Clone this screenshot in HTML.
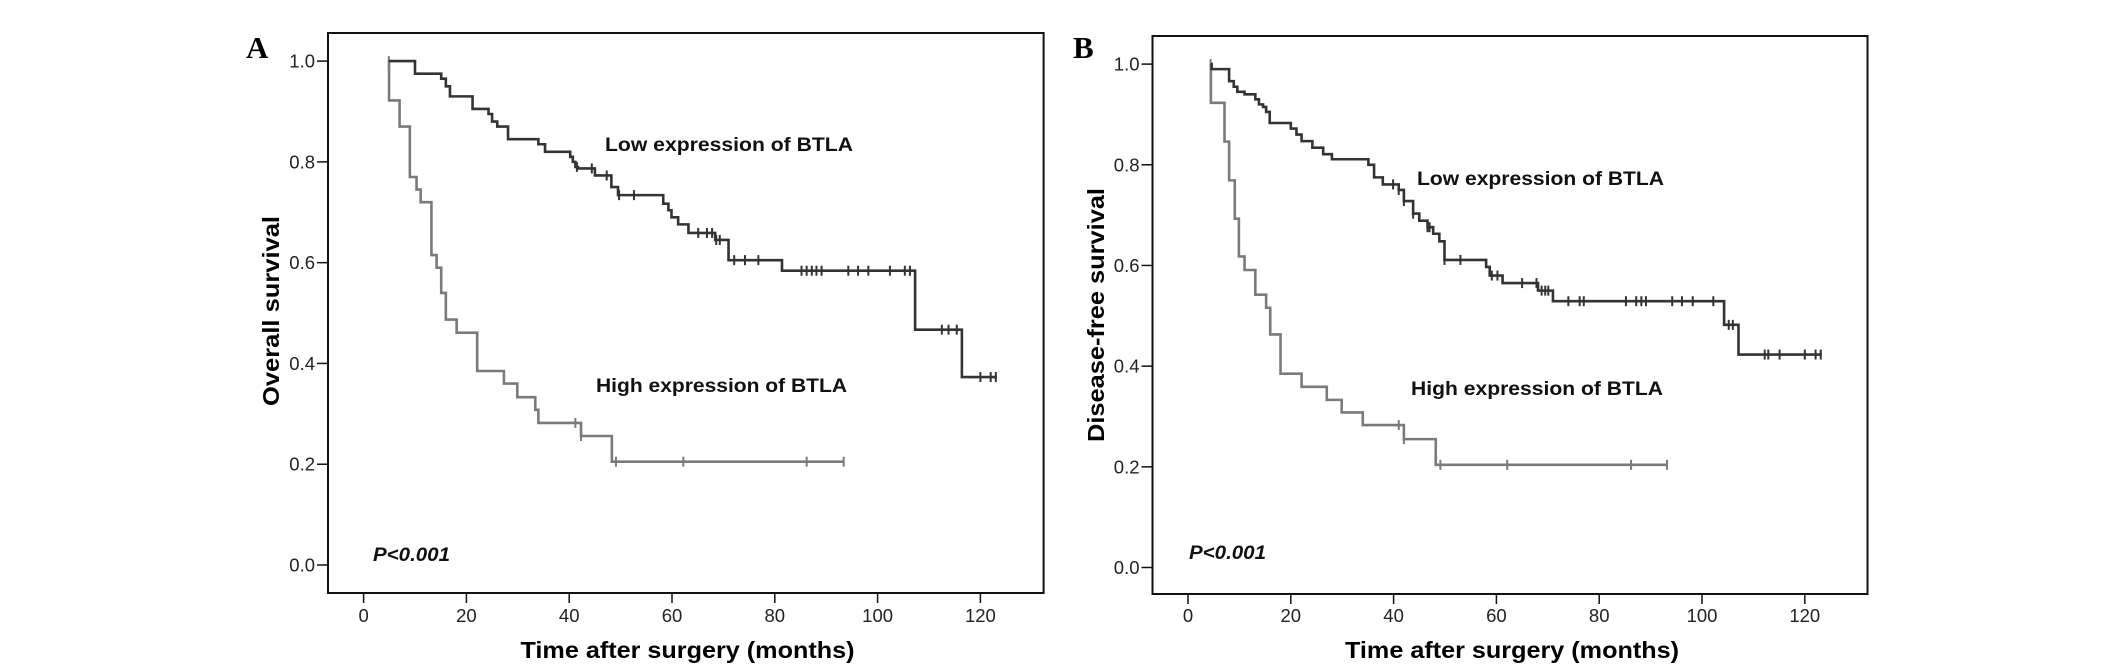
<!DOCTYPE html>
<html><head><meta charset="utf-8">
<style>html,body{margin:0;padding:0;background:#fff;}svg{display:block;}</style></head>
<body>
<svg id="fig" width="2126" height="670" xmlns="http://www.w3.org/2000/svg" font-family="Liberation Sans, sans-serif"></svg>
<script>
// ----- Data -----
const xTicks = [0,20,40,60,80,100,120];
const yTicks = [0.0,0.2,0.4,0.6,0.8,1.0];
const yTickLabels = ["0.0","0.2","0.4","0.6","0.8","1.0"];
// Panel A - Overall survival, low BTLA: step times and survival values
const aLowTimes = [4.9,10,15.1,16,16.8,21.2,24.3,25,26,28.1,34,35.3,40.2,40.7,41.2,41.7,45,48.2,49.5,58.3,59.3,59.9,61.2,63.2,68.4,71,81.4,107.3,116.4];
const aLowSurv  = [1.0,0.975,0.965,0.95,0.93,0.905,0.895,0.88,0.87,0.845,0.835,0.82,0.81,0.80,0.79,0.787,0.773,0.75,0.734,0.717,0.704,0.69,0.676,0.659,0.645,0.605,0.584,0.467,0.373];
const aLowEnd = 123.2;
const aLowCensor = [41.5,44.4,47.3,49.7,52.6,65.1,66.8,67.8,68.6,69.3,72.1,74.2,76.8,85.2,86.2,87.2,88.1,89.1,94.3,96.2,98.2,102.4,105.3,106.3,112.5,113.8,115.4,120,122,123];
// Panel A - high BTLA
const aHighTimes = [4.9,4.95,7,9,10.3,11.1,13.2,14.2,15.1,16,18.1,22.1,27.3,29.9,33.4,34,42.3,48.3];
const aHighSurv  = [1.0,0.922,0.87,0.77,0.745,0.72,0.615,0.59,0.54,0.487,0.461,0.385,0.36,0.333,0.308,0.282,0.256,0.205];
const aHighEnd = 93.4;
const aHighCensor = [4.9,41.2,42.3,49.1,62.2,86.2,93.4];
// Panel B - Disease-free survival, low BTLA
const bLowTimes = [4.4,4.6,8,8.9,9.6,11,13.1,13.8,14.6,15.2,15.9,20,21.1,22.1,24.2,26.3,28,35.1,36.2,37.9,41,42,43.8,45,46.6,47.7,48.9,49.9,58,58.7,61.2,68.1,71,104.3,107.1];
const bLowSurv  = [1.0,0.99,0.966,0.955,0.945,0.94,0.93,0.92,0.915,0.905,0.883,0.872,0.86,0.847,0.834,0.821,0.811,0.80,0.775,0.761,0.75,0.728,0.703,0.689,0.676,0.663,0.648,0.611,0.597,0.58,0.565,0.55,0.529,0.482,0.423];
const bLowEnd = 123.3;
const bLowCensor = [39.9,41,42,43.8,46.6,47,49.9,53,59.1,60.2,65,67.8,68.8,69.5,70.1,74,76.2,77,85.2,87.2,88.2,89.1,94.2,96.1,98.2,102.2,105.2,106,112.2,112.9,115.1,120,122.1,123.1];
// Panel B - high BTLA
const bHighTimes = [4.4,4.45,7.1,8,9.1,9.9,11,13.1,15.2,16,18,22.1,27,29.9,34,42,48.2];
const bHighSurv  = [1.0,0.923,0.846,0.769,0.693,0.618,0.591,0.542,0.516,0.463,0.385,0.359,0.333,0.308,0.283,0.255,0.204];
const bHighEnd = 93.2;
const bHighCensor = [4.4,41,42,49.1,62.1,86.2,93.2];

const NS = "http://www.w3.org/2000/svg";
const svg = document.getElementById('fig');
function mk(tag, attrs, parent){const e=document.createElementNS(NS,tag);for(const k in attrs)e.setAttribute(k,attrs[k]);(parent||svg).appendChild(e);return e;}

const panels = [
 {id:'a', letter:'A', lx:246, ly:58, fx0:328, fx1:1043.6, fy0:33, fy1:593, x0:363.6, ppm:5.14, y1:61.1, y0:565,
  ytitle:'Overall survival', ytx:271, yty:311, ytl:190,
  low:[aLowTimes,aLowSurv,aLowEnd,aLowCensor], high:[aHighTimes,aHighSurv,aHighEnd,aHighCensor],
  lowLab:[605,151,248], highLab:[596,392,251], pLab:[373,561]},
 {id:'b', letter:'B', lx:1073, ly:58, fx0:1152.5, fx1:1867.5, fy0:36, fy1:594, x0:1188, ppm:5.14, y1:64.1, y0:567.5,
  ytitle:'Disease-free survival', ytx:1096, yty:315, ytl:254,
  low:[bLowTimes,bLowSurv,bLowEnd,bLowCensor], high:[bHighTimes,bHighSurv,bHighEnd,bHighCensor],
  lowLab:[1417,185,247], highLab:[1411,395,252], pLab:[1189,559]}
];

panels.forEach(p=>{
  const X = t => p.x0 + t*p.ppm;
  const Y = v => p.y0 - v*(p.y0-p.y1);
  const g = mk('g',{});
  
  
  const L = mk('text',{x:p.lx,y:p.ly,'font-family':'Liberation Serif, serif','font-weight':'bold','font-size':31,fill:'#000'},g);
  L.textContent=p.letter;
  
  
  const fr = mk('rect',{x:p.fx0,y:p.fy0,width:p.fx1-p.fx0,height:p.fy1-p.fy0,fill:'none',stroke:'#111','stroke-width':2},g);
  
  
  yTicks.forEach((v,i)=>{
    const tk=mk('line',{x1:p.fx0-11,x2:p.fx0,y1:Y(v),y2:Y(v),stroke:'#111','stroke-width':1.5},g);
    
    
    const tl=mk('text',{x:p.fx0-13,y:Y(v)+6.5,'text-anchor':'end','font-size':18.5,fill:'#222'},g);
    tl.textContent=yTickLabels[i];
    
    
  });
  xTicks.forEach(t=>{
    const tk=mk('line',{x1:X(t),x2:X(t),y1:p.fy1,y2:p.fy1+10,stroke:'#111','stroke-width':1.5},g);
    
    
    const tl=mk('text',{x:X(t),y:622,'text-anchor':'middle','font-size':18.5,fill:'#222'},g);
    tl.textContent=String(t);
    
    
  });
  const xt=mk('text',{x:p.fx0+359.5,y:658,'text-anchor':'middle','font-size':23,'font-weight':'bold',fill:'#000',textLength:334,lengthAdjust:'spacingAndGlyphs'},g);
  xt.textContent='Time after surgery (months)';
  
  
  const yt=mk('text',{x:0,y:0,'text-anchor':'middle','font-size':23,'font-weight':'bold',fill:'#000',textLength:p.ytl,lengthAdjust:'spacingAndGlyphs',transform:`translate(${p.ytx+8},${p.yty}) rotate(-90)`},g);
  yt.textContent=p.ytitle;
  
  

  function curve(d,color,name){
    const [ts,vs,end,cens]=d;
    let path=`M${X(ts[0])},${Y(vs[0])}`;
    for(let i=1;i<ts.length;i++){path+=` H${X(ts[i])} V${Y(vs[i])}`;}
    path+=` H${X(end)}`;
    const pe=mk('path',{d:path,fill:'none',stroke:color,'stroke-width':2.6},g);
    
    
    const sv = t=>{let v=vs[0];for(let i=0;i<ts.length;i++){if(ts[i]<=t+1e-9)v=vs[i];}return v;};
    cens.forEach(t=>{
      const y=Y(sv(t));
      const c=mk('line',{x1:X(t),x2:X(t),y1:y-5,y2:y+5,stroke:color,'stroke-width':2},g);
      
      
    });
  }
  curve(p.high,'#7a7a7a','high-expression');
  curve(p.low,'#333','low-expression');

  const ll=mk('text',{x:p.lowLab[0],y:p.lowLab[1],'font-size':19,'font-weight':'bold',fill:'#111',textLength:p.lowLab[2],lengthAdjust:'spacingAndGlyphs'},g);
  ll.textContent='Low expression of BTLA';
  
  
  const hl=mk('text',{x:p.highLab[0],y:p.highLab[1],'font-size':19,'font-weight':'bold',fill:'#111',textLength:p.highLab[2],lengthAdjust:'spacingAndGlyphs'},g);
  hl.textContent='High expression of BTLA';
  
  
  const pl=mk('text',{x:p.pLab[0],y:p.pLab[1],'font-size':19,'font-weight':'bold','font-style':'italic',fill:'#111',textLength:77,lengthAdjust:'spacingAndGlyphs'},g);
  pl.textContent='P<0.001';
  
  
});
</script>
</body></html>
